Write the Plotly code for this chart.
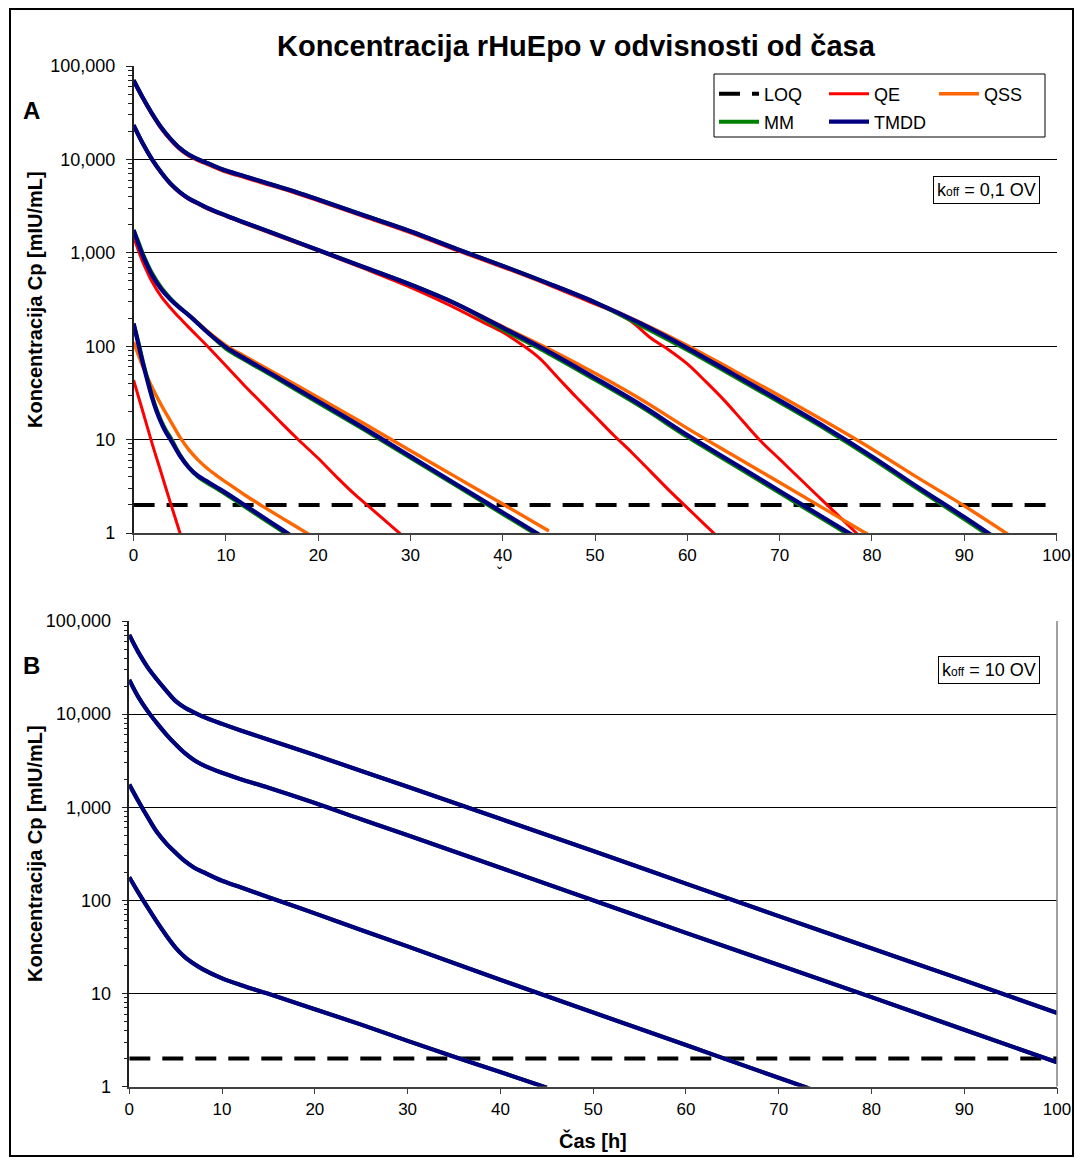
import plotly.graph_objects as go

W, H = 1080, 1162
FONT = "Liberation Sans, Arial, sans-serif"

# ---------------- data ----------------
LOQ_T = [0, 100]
LOQ_C = [2, 2]

# Panel A  (koff = 0,1 OV)
A1_T = [0, 1, 2, 3, 4, 5, 6, 7, 8, 10, 12, 14, 17, 20, 25, 30, 35, 40, 45, 50, 55, 60, 65, 70, 75, 80, 85, 90, 95]
A1_TMDD = [70300, 45700, 30900, 21900, 16600, 13200, 11200, 10000, 9120, 7590, 6610, 5750, 4680, 3720, 2510, 1700, 1100, 724, 468, 295, 174, 95.5, 50.1, 26.3, 13.5, 6.61, 3.09, 1.48, 0.69]
A1_MM = [70300, 45700, 30900, 21900, 16600, 13200, 11200, 10000, 9120, 7590, 6610, 5750, 4680, 3720, 2510, 1700, 1100, 724, 468, 295, 166, 91.2, 47.9, 25.1, 12.9, 6.31, 2.95, 1.41, 0.66]
A1_QSS = [70300, 45700, 30900, 21900, 16600, 13200, 11200, 10000, 9120, 7590, 6610, 5750, 4680, 3720, 2510, 1700, 1100, 724, 468, 295, 178, 102, 55.0, 29.5, 15.5, 7.94, 3.89, 1.95, 0.93]
A1_QE_T = [0, 1, 2, 3, 4, 5, 6, 7, 8, 10, 12, 14, 17, 20, 25, 30, 35, 40, 45, 50, 52, 54, 56, 58, 60, 62, 64, 66, 68, 70, 72, 74, 76, 78, 80]
A1_QE = [67900, 44200, 29900, 21100, 16000, 12700, 10800, 9660, 8810, 7330, 6380, 5560, 4520, 3590, 2430, 1640, 1060, 700, 452, 282, 234, 182, 123, 91.2, 64.6, 41.7, 26.3, 15.8, 9.55, 6.17, 3.98, 2.57, 1.66, 1.07, 0.69]

A2_T = [0, 1, 2, 3, 4, 5, 6, 7, 8, 10, 12, 15, 20, 25, 30, 35, 40, 45, 50, 55, 60, 65, 70, 75, 80]
A2_TMDD = [23300, 14800, 10000, 7240, 5500, 4470, 3800, 3390, 3020, 2510, 2110, 1640, 1070, 700, 457, 282, 158, 87.1, 45.7, 23.4, 11.2, 5.62, 2.82, 1.41, 0.71]
A2_MM = [23300, 14800, 10000, 7240, 5500, 4470, 3800, 3390, 3020, 2510, 2110, 1640, 1070, 700, 457, 282, 151, 83.2, 43.7, 22.4, 10.7, 5.37, 2.69, 1.35, 0.68]
A2_QSS = [23300, 14800, 10000, 7240, 5500, 4470, 3800, 3390, 3020, 2510, 2110, 1640, 1070, 700, 457, 282, 162, 93.3, 51.3, 26.9, 13.2, 6.76, 3.47, 1.78, 0.91]
A2_QE_T = [0, 1, 2, 3, 4, 5, 6, 7, 8, 10, 12, 15, 20, 25, 30, 34, 38, 40, 42, 44, 46, 48, 50, 52, 54, 56, 58, 60, 62, 64]
A2_QE = [22800, 14500, 9770, 7080, 5370, 4370, 3720, 3310, 2950, 2450, 2060, 1600, 1050, 676, 427, 282, 178, 141, 105, 74.1, 45.7, 28.2, 17.8, 11.2, 7.24, 4.57, 2.88, 1.86, 1.20, 0.78]

A3_T = [0, 0.5, 1, 1.5, 2, 3, 4, 5, 6, 7, 8, 10, 12, 15, 20, 25, 30, 35, 40, 45]
A3_TMDD = [1750, 1260, 933, 724, 575, 407, 316, 257, 214, 174, 141, 97.7, 74.1, 50.1, 25.7, 13.2, 6.61, 3.31, 1.66, 0.83]
A3_MM = [1750, 1320, 977, 759, 603, 422, 324, 260, 214, 174, 141, 94.4, 71.6, 48.4, 24.8, 12.7, 6.38, 3.20, 1.60, 0.80]
A3_QSS = [1700, 1260, 933, 724, 575, 407, 316, 257, 216, 178, 145, 102, 78.5, 53.7, 28.2, 14.8, 7.59, 3.94, 2.04, 1.05]
A3_QE_T = [0, 0.5, 1, 1.5, 2, 3, 4, 5, 6, 8, 10, 12, 14, 16, 18, 20, 22, 24, 26, 28, 30]
A3_QE = [1480, 1070, 794, 617, 490, 339, 257, 200, 158, 100, 61.7, 38.0, 24.0, 15.1, 9.66, 6.31, 3.98, 2.57, 1.74, 1.17, 0.79]

A4_T = [0, 0.5, 1, 1.5, 2, 2.5, 3, 3.5, 4, 5, 6, 7, 8, 9, 10, 12, 14, 16, 18]
A4_TMDD = [175, 107, 66.1, 42.7, 28.2, 20.0, 15.1, 12.0, 10.0, 6.76, 5.01, 4.07, 3.55, 3.09, 2.69, 2.00, 1.48, 1.10, 0.81]
A4_MM = [175, 112, 69.2, 44.7, 29.5, 20.9, 15.8, 12.6, 10.5, 6.92, 5.01, 3.98, 3.43, 2.99, 2.60, 1.93, 1.43, 1.06, 0.79]
A4_QSS_T = [0, 0.5, 1, 1.5, 2, 3, 4, 5, 6, 7, 8, 9, 10, 12, 14, 16, 18, 20]
A4_QSS = [111, 81.3, 60.3, 46.8, 36.3, 23.4, 15.8, 10.7, 7.76, 6.03, 4.90, 4.12, 3.51, 2.57, 1.93, 1.46, 1.11, 0.84]
A4_QE_T = [0, 1, 2, 3, 4, 5, 6]
A4_QE = [43.3, 20.0, 9.12, 4.37, 2.09, 1.02, 0.50]

# Panel B  (koff = 10 OV) -- the four models coincide
B1_T = [0, 1, 2, 3, 4, 5, 6, 7, 8, 10, 12, 15, 20, 25, 30, 40, 50, 60, 70, 80, 90, 100]
B1_C = [70800, 45700, 31600, 23400, 17800, 13800, 11700, 10400, 9330, 7850, 6680, 5310, 3630, 2450, 1660, 750, 339, 151, 67.6, 30.5, 13.8, 6.17]
B2_T = [0, 1, 2, 3, 4, 5, 6, 7, 8, 10, 12, 15, 20, 25, 30, 40, 50, 60, 70, 80, 90, 100]
B2_C = [23300, 15100, 10700, 7940, 6030, 4730, 3800, 3200, 2820, 2340, 2000, 1620, 1110, 741, 501, 224, 100, 44.7, 20.2, 9.12, 4.07, 1.82]
B3_T = [0, 1, 2, 3, 4, 5, 6, 7, 8, 10, 12, 15, 20, 25, 30, 40, 50, 60, 70, 75]
B3_C = [1750, 1150, 776, 537, 407, 324, 263, 224, 200, 162, 138, 108, 72.4, 47.9, 32.0, 14.0, 6.24, 2.79, 1.24, 0.83]
B4_T = [0, 1, 2, 3, 4, 5, 6, 7, 8, 10, 12, 15, 20, 25, 30, 35, 40, 45]
B4_C = [177, 120, 83.2, 58.2, 41.7, 30.9, 24.5, 20.7, 18.0, 14.5, 12.3, 9.89, 6.76, 4.62, 3.09, 2.09, 1.43, 0.97]

MODELS = ["QE", "QSS", "MM", "TMDD"]
COLORS = {"QE": "#FF0000", "QSS": "#FF6600", "MM": "#008000", "TMDD": "#000080"}
WIDTHS = {"QE": 3.0, "QSS": 3.4, "MM": 4.0, "TMDD": 4.2}
LEGEND_OF = {"LOQ": "legend", "QE": "legend", "QSS": "legend", "MM": "legend2", "TMDD": "legend2"}

PANEL_A = {
    "QE": [(A1_QE_T, A1_QE), (A2_QE_T, A2_QE), (A3_QE_T, A3_QE), (A4_QE_T, A4_QE)],
    "QSS": [(A1_T, A1_QSS), (A2_T, A2_QSS), (A3_T, A3_QSS), (A4_QSS_T, A4_QSS)],
    "MM": [(A1_T, A1_MM), (A2_T, A2_MM), (A3_T, A3_MM), (A4_T, A4_MM)],
    "TMDD": [(A1_T, A1_TMDD), (A2_T, A2_TMDD), (A3_T, A3_TMDD), (A4_T, A4_TMDD)],
}
PANEL_B = {m: [(B1_T, B1_C), (B2_T, B2_C), (B3_T, B3_C), (B4_T, B4_C)] for m in MODELS}

fig = go.Figure()

shown = set()


def add_panel(curves, xa, ya):
    fig.add_trace(go.Scatter(
        x=LOQ_T, y=LOQ_C, mode="lines", name="LOQ", legendgroup="LOQ",
        legend=LEGEND_OF["LOQ"], showlegend="LOQ" not in shown,
        line=dict(color="black", width=4, dash="21px,12px"),
        xaxis=xa, yaxis=ya, hoverinfo="skip"))
    shown.add("LOQ")
    for m in MODELS:
        for t, c in curves[m]:
            fig.add_trace(go.Scatter(
                x=t, y=c, mode="lines", name=m, legendgroup=m,
                legend=LEGEND_OF[m], showlegend=m not in shown,
                line=dict(color=COLORS[m], width=WIDTHS[m], shape="spline", smoothing=1.0),
                xaxis=xa, yaxis=ya))
            shown.add(m)


add_panel(PANEL_A, "x", "y")
add_panel(PANEL_B, "x2", "y2")


# ---------------- axes ----------------
def px_x(v):
    return v / W


def px_y(v):
    return 1 - v / H


YT = [1, 10, 100, 1000, 10000, 100000]
YT_TXT = ["1", "10", "100", "1,000", "10,000", "100,000"]
MINOR = [m * 10 ** e for e in range(5) for m in range(2, 10)]
XT = list(range(0, 101, 10))

common_x = dict(range=[0, 100], tickvals=XT, ticks="outside", ticklen=6, tickcolor="#404040",
                showline=True, linecolor="#404040", linewidth=1.5, showgrid=False, zeroline=False,
                tickfont=dict(family=FONT, size=17, color="black"), fixedrange=True,
                automargin=False)
common_y = dict(type="log", range=[0, 5], tickvals=YT, ticktext=YT_TXT, ticks="outside", ticklen=6,
                tickcolor="#202020", showline=True, linecolor="#202020", linewidth=1.5,
                showgrid=True, gridcolor="#000000", gridwidth=1, zeroline=False,
                tickfont=dict(family=FONT, size=18, color="black"), ticklabelstandoff=7,
                minor=dict(tickvals=MINOR, ticks="outside", ticklen=4, tickcolor="#202020", showgrid=False),
                automargin=False, fixedrange=True)

fig.update_layout(
    xaxis=dict(domain=[px_x(133.6), px_x(1056.5)], anchor="y", **common_x),
    yaxis=dict(domain=[px_y(533), px_y(66)], anchor="x", **common_y),
    xaxis2=dict(domain=[px_x(129.3), px_x(1057)], anchor="y2", **common_x),
    yaxis2=dict(domain=[px_y(1086.5), px_y(621)], anchor="x2", **common_y),
)

# ---------------- layout ----------------
leg_common = dict(orientation="h", xanchor="left", yanchor="middle", bgcolor="rgba(0,0,0,0)",
                  borderwidth=0, font=dict(family=FONT, size=18, color="black"),
                  entrywidth=55, entrywidthmode="pixels", itemwidth=40, tracegroupgap=0)
fig.update_layout(
    width=W, height=H, margin=dict(l=0, r=0, t=0, b=0),
    paper_bgcolor="white", plot_bgcolor="white",
    legend=dict(x=px_x(714), y=px_y(94), **leg_common),
    legend2=dict(x=px_x(714), y=px_y(122), **leg_common),
    font=dict(family=FONT, color="black"),
)

shapes = [
    # legend box
    dict(type="rect", xref="paper", yref="paper", x0=px_x(714), x1=px_x(1045), y0=px_y(137), y1=px_y(74),
         line=dict(color="black", width=1)),
    # right border of panel B
    dict(type="line", xref="x2 domain", yref="y2 domain", x0=1, x1=1, y0=0, y1=1,
         line=dict(color="#808080", width=1.5)),
    # outer frame
    dict(type="rect", xref="paper", yref="paper", x0=px_x(10), x1=px_x(1073), y0=px_y(1156), y1=px_y(9),
         line=dict(color="black", width=2)),
]
fig.update_layout(shapes=shapes)

ann = [
    dict(text="<b>Koncentracija rHuEpo v odvisnosti od časa</b>", x=px_x(576), y=px_y(46),
         font=dict(size=29)),
    dict(text="<b>A</b>", x=px_x(31), y=px_y(110), font=dict(size=24)),
    dict(text="<b>B</b>", x=px_x(31), y=px_y(665), font=dict(size=24)),
    dict(text="<b>Koncentracija Cp [mIU/mL]</b>", x=px_x(35), y=px_y(300), textangle=-90,
         font=dict(size=20)),
    dict(text="<b>Koncentracija Cp [mIU/mL]</b>", x=px_x(35), y=px_y(854), textangle=-90,
         font=dict(size=20)),
    dict(text="<b>Čas [h]</b>", x=px_x(593), y=px_y(1140), font=dict(size=20)),
    dict(text="ˇ", x=px_x(500), y=px_y(574), font=dict(size=16)),
    dict(text='k<span style="font-size:12px">off</span> = 0,1 OV', x=px_x(1040), y=px_y(190),
         xanchor="right", font=dict(size=18), bordercolor="black", borderwidth=1, borderpad=3,
         bgcolor="white"),
    dict(text='k<span style="font-size:12px">off</span> = 10 OV', x=px_x(1040), y=px_y(669.5),
         xanchor="right", font=dict(size=18), bordercolor="black", borderwidth=1, borderpad=3,
         bgcolor="white"),
]
for a in ann:
    a.setdefault("xanchor", "center")
    a.setdefault("yanchor", "middle")
    a.update(xref="paper", yref="paper", showarrow=False)
    a["font"] = dict(family=FONT, color="black", **a["font"])
fig.update_layout(annotations=ann)

fig.write_html("out.html")
